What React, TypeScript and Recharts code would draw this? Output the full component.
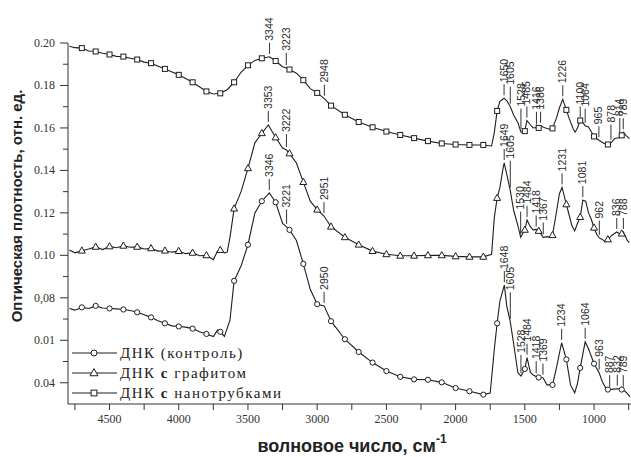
import React from "react";
import { LineChart, Line, XAxis, YAxis, ReferenceLine, ReferenceDot } from "recharts";

// ДНК с нанотрубками
const tubesWn = [4790, 4750, 4700, 4650, 4600, 4550, 4500, 4450, 4400, 4350, 4300, 4250, 4200, 4100, 4000, 3900, 3800, 3750, 3700, 3650, 3600, 3550, 3500, 3450, 3400, 3344, 3300, 3250, 3223, 3200, 3150, 3100, 3050, 3000, 2948, 2900, 2800, 2700, 2600, 2500, 2400, 2300, 2200, 2100, 2000, 1900, 1800, 1740, 1720, 1700, 1680, 1650, 1630, 1605, 1580, 1550, 1528, 1500, 1485, 1460, 1440, 1416, 1400, 1386, 1360, 1330, 1300, 1270, 1250, 1226, 1200, 1180, 1150, 1137, 1120, 1100, 1080, 1064, 1040, 1000, 965, 930, 900, 878, 850, 814, 800, 789, 770, 745];
const tubesOd = [0.1985, 0.1978, 0.1976, 0.1962, 0.196, 0.1952, 0.1946, 0.1937, 0.1936, 0.1928, 0.1922, 0.191, 0.1905, 0.1878, 0.185, 0.1815, 0.1772, 0.176, 0.1763, 0.178, 0.1815, 0.1862, 0.1895, 0.1918, 0.1928, 0.1935, 0.1915, 0.1888, 0.1882, 0.1875, 0.1858, 0.1825, 0.1785, 0.1765, 0.1738, 0.1705, 0.1662, 0.1628, 0.1603, 0.1583, 0.1567, 0.1552, 0.1538, 0.1527, 0.1522, 0.152, 0.152, 0.1515, 0.158, 0.168, 0.1725, 0.174, 0.1728, 0.17, 0.166, 0.1625, 0.158, 0.1585, 0.1635, 0.1615, 0.16, 0.1602, 0.16, 0.161, 0.1602, 0.1595, 0.1598, 0.165, 0.1695, 0.1735, 0.1685, 0.1645, 0.1595, 0.158, 0.16, 0.1635, 0.1625, 0.161, 0.1605, 0.156, 0.1542, 0.1528, 0.1522, 0.153, 0.155, 0.1555, 0.1565, 0.158, 0.1565, 0.155];
const tubesPeaks = [3344, 3223, 2948, 1650, 1605, 1528, 1485, 1416, 1386, 1226, 1100, 1064, 965, 878, 814, 789];

// ДНК с графитом
const graphiteWn = [4790, 4750, 4700, 4650, 4600, 4550, 4500, 4450, 4400, 4350, 4300, 4250, 4200, 4150, 4100, 4050, 4000, 3950, 3900, 3850, 3800, 3750, 3720, 3700, 3670, 3650, 3630, 3600, 3550, 3500, 3450, 3400, 3353, 3300, 3250, 3222, 3200, 3150, 3100, 3050, 3000, 2951, 2900, 2800, 2700, 2600, 2500, 2400, 2300, 2200, 2100, 2000, 1900, 1800, 1740, 1720, 1700, 1680, 1660, 1649, 1630, 1605, 1580, 1550, 1530, 1500, 1484, 1460, 1440, 1418, 1400, 1367, 1340, 1320, 1300, 1270, 1250, 1231, 1200, 1180, 1160, 1140, 1120, 1100, 1081, 1060, 1040, 1020, 1000, 980, 962, 940, 920, 900, 870, 836, 810, 800, 788, 760, 745];
const graphiteOd = [0.1025, 0.1012, 0.1022, 0.103, 0.104, 0.1027, 0.1042, 0.1036, 0.1045, 0.1038, 0.104, 0.103, 0.1033, 0.102, 0.1022, 0.1015, 0.102, 0.1008, 0.1012, 0.0998, 0.1, 0.098, 0.102, 0.1025, 0.1012, 0.1015, 0.1085, 0.122, 0.13, 0.141, 0.153, 0.1575, 0.1614, 0.1555, 0.1505, 0.1496, 0.148, 0.1435, 0.1345, 0.1255, 0.1215, 0.1185, 0.1135, 0.1085, 0.105, 0.102, 0.1005, 0.0998, 0.0998, 0.1, 0.1, 0.0995, 0.0993, 0.0993, 0.1005, 0.118, 0.127, 0.132, 0.14, 0.1435, 0.138, 0.1305, 0.121, 0.114, 0.1085, 0.112, 0.1167, 0.1135, 0.112, 0.1122, 0.1115, 0.1085, 0.1088, 0.1085, 0.1095, 0.121, 0.129, 0.132, 0.124, 0.119, 0.114, 0.1115, 0.115, 0.118, 0.126, 0.1255, 0.12, 0.117, 0.113, 0.1098, 0.1082, 0.1075, 0.1064, 0.1075, 0.1095, 0.111, 0.11, 0.1102, 0.111, 0.107, 0.106];
const graphitePeaks = [3353, 3222, 2951, 1649, 1605, 1530, 1484, 1418, 1367, 1231, 1081, 962, 836, 788];

// ДНК (контроль)
const controlWn = [4790, 4750, 4700, 4650, 4600, 4550, 4500, 4450, 4400, 4350, 4300, 4250, 4200, 4150, 4100, 4050, 4000, 3950, 3900, 3850, 3800, 3750, 3720, 3700, 3670, 3630, 3600, 3550, 3500, 3450, 3400, 3346, 3300, 3250, 3221, 3200, 3150, 3100, 3050, 3000, 2950, 2900, 2800, 2700, 2600, 2500, 2400, 2300, 2200, 2100, 2000, 1900, 1800, 1750, 1720, 1700, 1680, 1648, 1630, 1605, 1580, 1550, 1528, 1500, 1484, 1460, 1440, 1418, 1400, 1369, 1340, 1300, 1270, 1250, 1234, 1200, 1170, 1140, 1120, 1100, 1064, 1040, 1000, 963, 940, 920, 900, 887, 860, 832, 810, 800, 789, 760, 740];
const controlOd = [0.075, 0.0742, 0.0755, 0.075, 0.0762, 0.0752, 0.075, 0.0748, 0.0745, 0.074, 0.0732, 0.072, 0.0708, 0.0692, 0.068, 0.0668, 0.0665, 0.0662, 0.0655, 0.064, 0.063, 0.0618, 0.0648, 0.064, 0.0618, 0.0695, 0.088, 0.095, 0.105, 0.12, 0.1255, 0.1294, 0.125, 0.115, 0.1134, 0.112, 0.107, 0.096, 0.084, 0.077, 0.0762, 0.069, 0.0605, 0.0545, 0.0495, 0.0455, 0.0428, 0.0416, 0.0414, 0.0402, 0.0375, 0.036, 0.0344, 0.0352, 0.056, 0.068, 0.0785, 0.086, 0.076, 0.0687, 0.058, 0.0447, 0.0432, 0.0465, 0.0518, 0.045, 0.0436, 0.043, 0.0425, 0.0424, 0.039, 0.039, 0.0475, 0.054, 0.0588, 0.051, 0.039, 0.0353, 0.0395, 0.047, 0.0593, 0.056, 0.049, 0.0447, 0.0405, 0.038, 0.0368, 0.0367, 0.037, 0.0372, 0.037, 0.0368, 0.0367, 0.035, 0.0334];
const controlPeaks = [3346, 3221, 2950, 1648, 1605, 1528, 1484, 1418, 1369, 1234, 1064, 963, 887, 832, 789];

const xTicks = [4750, 4500, 4250, 4000, 3750, 3500, 3250, 3000, 2750, 2500, 2250, 2000, 1750, 1500, 1250, 1000, 750];
const xTickLabels: Record<number, string> = {
  4500: "4500", 4000: "4000", 3500: "3500", 3000: "3000", 2500: "2500", 2000: "2000", 1500: "1500", 1000: "1000",
};
const yTicks = [0.04, 0.05, 0.06, 0.07, 0.08, 0.09, 0.1, 0.11, 0.12, 0.13, 0.14, 0.15, 0.16, 0.17, 0.18, 0.19, 0.2];
const yTickLabels = ["0.04", "0.01", "0,08", "0.10", "0.12", "0.14", "0.16", "0.18", "0.20"];

const legendItems = [
  { kind: "circle", name: "ДНК (контроль)" },
  { kind: "triangle", name: "ДНК с графитом" },
  { kind: "square", name: "ДНК с нанотрубками" },
];

const INK = "#1e1e1e";
const AXIS_LEFT = 68;
const AXIS_BOTTOM = 404;
const LINE_GAP = 0.0014; // зазор между кривой и выноской
const LINE_RISE = 0.0066; // длина выноски

const toPoints = (wn: number[], od: number[]) => wn.map((w, i) => ({ wn: w, od: od[i] }));

function MarkerShape({ kind, x, y, s = 1 }: { kind: string; x: number; y: number; s?: number }) {
  const common = { fill: "#fff", stroke: INK, strokeWidth: 1 };
  if (kind === "circle") return <circle cx={x} cy={y} r={2.6 * s} {...common} />;
  if (kind === "triangle")
    return (
      <polygon
        points={`${x},${y - 3.8 * s} ${x - 3.5 * s},${y + 2.4 * s} ${x + 3.5 * s},${y + 2.4 * s}`}
        {...common}
      />
    );
  return <rect x={x - 2.5 * s} y={y - 2.5 * s} width={5 * s} height={5 * s} {...common} />;
}

// маркер на каждой сотне см-1
const dotFor = (kind: string) => (props: any) => {
  const { cx, cy, payload } = props;
  if (cx == null || payload.wn % 100 !== 0) return <g key={`n${kind}${payload.wn}`} />;
  return <MarkerShape key={`m${kind}${payload.wn}`} kind={kind} x={cx} y={cy} />;
};

function annotate(tag: string, wn: number[], od: number[], peaks: number[]) {
  return peaks.flatMap((p) => {
    const i = wn.indexOf(p);
    const v = od[i];
    let top = v;
    wn.forEach((w, j) => {
      if (Math.abs(w - p) <= 30) top = Math.max(top, od[j]);
    });
    const y0 = v + LINE_GAP;
    const y1 = top + LINE_RISE;
    return [
      <ReferenceLine
        key={`${tag}l${p}`}
        segment={[{ x: p, y: y0 }, { x: p, y: y1 }]}
        stroke="#333"
        strokeWidth={1}
        ifOverflow="visible"
      />,
      <ReferenceDot
        key={`${tag}t${p}`}
        x={p}
        y={y1}
        r={0}
        ifOverflow="visible"
        shape={(s: any) => (
          <text
            transform={`translate(${s.cx + 3.6},${s.cy - 2}) rotate(-90)`}
            fontFamily="Liberation Sans, Arial, sans-serif"
            fontSize={10.5}
            fill="#2a2a2a"
          >
            {p}
          </text>
        )}
      />,
    ];
  });
}

function YTick({ y, payload }: any) {
  const step = Math.round(payload.value * 100);
  const major = step % 2 === 0;
  return (
    <g>
      <line x1={AXIS_LEFT - (major ? 8 : 5)} x2={AXIS_LEFT} y1={y} y2={y} stroke="#333" />
      {major && (
        <text x={55} y={y} dy={4} textAnchor="end" fontFamily="Liberation Serif, serif" fontSize={12} fill="#333">
          {yTickLabels[(step - 4) / 2]}
        </text>
      )}
    </g>
  );
}

function XTick({ x, payload }: any) {
  const label = xTickLabels[Math.round(Number(payload.value))];
  return (
    <g>
      <line x1={x} x2={x} y1={AXIS_BOTTOM} y2={AXIS_BOTTOM + 6} stroke="#333" />
      {label && (
        <text x={x} y={AXIS_BOTTOM + 19} textAnchor="middle" fontFamily="Liberation Serif, serif" fontSize={12} fill="#333">
          {label}
        </text>
      )}
    </g>
  );
}

export default function App() {
  return (
    <div style={{ position: "absolute", left: 0, top: 0, width: 631, height: 457, background: "#fff" }}>
      <LineChart width={631} height={457} margin={{ top: 43, right: 0, bottom: 23, left: 8 }}>
        <XAxis
          dataKey="wn"
          type="number"
          domain={[733, 4800]}
          reversed
          ticks={xTicks}
          interval={0}
          height={30}
          tickLine={false}
          tick={(p: any) => <XTick {...p} />}
          axisLine={{ stroke: "#333" }}
        />
        <YAxis
          dataKey="od"
          type="number"
          domain={[0.03, 0.2]}
          ticks={yTicks}
          interval={0}
          width={60}
          tickLine={false}
          tick={(p: any) => <YTick {...p} />}
          axisLine={{ stroke: "#333" }}
        />
        <Line data={toPoints(tubesWn, tubesOd)} dataKey="od" type="linear" stroke={INK} strokeWidth={1.1}
          dot={dotFor("square")} activeDot={false} isAnimationActive={false} />
        <Line data={toPoints(graphiteWn, graphiteOd)} dataKey="od" type="linear" stroke={INK} strokeWidth={1.1}
          dot={dotFor("triangle")} activeDot={false} isAnimationActive={false} />
        <Line data={toPoints(controlWn, controlOd)} dataKey="od" type="linear" stroke={INK} strokeWidth={1.1}
          dot={dotFor("circle")} activeDot={false} isAnimationActive={false} />
        {annotate("n", tubesWn, tubesOd, tubesPeaks)}
        {annotate("g", graphiteWn, graphiteOd, graphitePeaks)}
        {annotate("c", controlWn, controlOd, controlPeaks)}
      </LineChart>
      <svg width={631} height={457} style={{ position: "absolute", left: 0, top: 0, pointerEvents: "none" }}>
        <text
          transform="translate(22,206) rotate(-90)"
          textAnchor="middle"
          fontFamily="Liberation Sans, Arial, sans-serif"
          fontSize={15}
          fontWeight="bold"
          fill="#222"
        >
          Оптическая плотность, отн. ед.
        </text>
        <text x={352} y={452} textAnchor="middle" fontFamily="Liberation Sans, Arial, sans-serif" fontSize={18} fontWeight="bold" fill="#222">
          волновое число, см<tspan dy={-9} fontSize={12}>-1</tspan>
        </text>
        {legendItems.map((item, i) => {
          const y = 353 + i * 20;
          return (
            <g key={item.name}>
              <line x1={72} x2={117} y1={y} y2={y} stroke={INK} strokeWidth={1.1} />
              <MarkerShape kind={item.kind} x={94} y={y} s={1.15} />
              <text x={120} y={y + 5} fontFamily="Liberation Serif, serif" fontSize={15} letterSpacing={1.5} fill="#222">
                {item.name.split(" ").map((w, k) => (
                  <tspan key={k} fontWeight={w === "с" ? "bold" : "normal"}>
                    {(k > 0 ? " " : "") + w}
                  </tspan>
                ))}
              </text>
            </g>
          );
        })}
      </svg>
    </div>
  );
}
